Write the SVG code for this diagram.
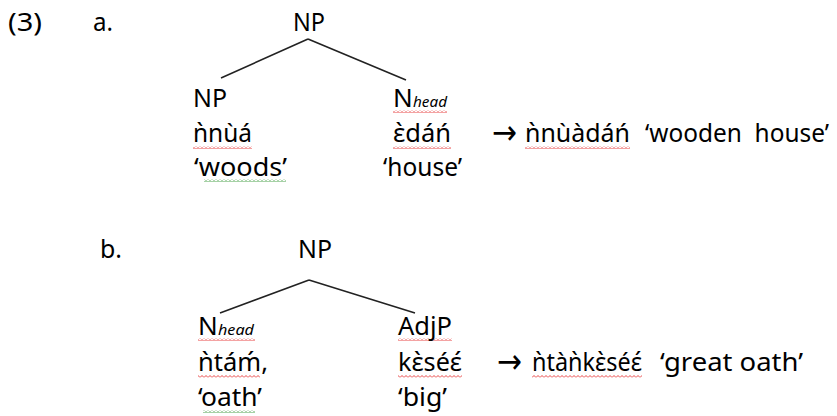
<svg xmlns="http://www.w3.org/2000/svg" width="837" height="416" viewBox="0 0 837 416">
<style>
text{font-family:"Noto Sans","Open Sans","DejaVu Sans",sans-serif;font-size:26px;fill:#000;white-space:pre}
.sub{font-size:15px;font-style:italic}
.arr{font-family:"DejaVu Sans",sans-serif;font-size:34px}
.edge{stroke:#222;stroke-width:1.6;fill:none}
.wr{fill:url(#wavyR)}
.wg{fill:url(#wavyG)}
</style>
<defs>
<pattern id="wavyR" width="4" height="3" patternUnits="userSpaceOnUse"><path d="M0 2.5 L2 0.5 L4 2.5" stroke="#e53030" stroke-width="0.9" fill="none"/></pattern>
<pattern id="wavyG" width="4" height="3" patternUnits="userSpaceOnUse"><path d="M0 2.5 L2 0.5 L4 2.5" stroke="#3a9a3a" stroke-width="0.9" fill="none"/></pattern>
</defs>
<rect width="837" height="416" fill="#fff"/>
<g id="labels">
<text x="8" y="31" textLength="34" lengthAdjust="spacingAndGlyphs">(3)</text>
<text x="93" y="31" textLength="20" lengthAdjust="spacingAndGlyphs">a.</text>
<text x="100" y="258" textLength="22" lengthAdjust="spacingAndGlyphs">b.</text>
</g>
<g id="connectors">
<path class="edge" d="M308 39 L221 78 M308 39 L406 80"/>
<path class="edge" d="M309 280 L220 313 M309 280 L415 313"/>
</g>
<g id="a-root"><text x="293" y="31" textLength="32" lengthAdjust="spacingAndGlyphs">NP</text></g>
<g id="a-left">
<text x="193" y="107" textLength="34" lengthAdjust="spacingAndGlyphs">NP</text>
<rect class="wr" x="193" y="146" width="59" height="3"/>
<text x="193" y="142" textLength="59" lengthAdjust="spacingAndGlyphs">ǹnùá</text>
<rect class="wg" x="204" y="179" width="82" height="3"/>
<text x="194" y="176" textLength="93" lengthAdjust="spacingAndGlyphs">‘woods’</text>
</g>
<g id="a-right">
<rect class="wr" x="393" y="110" width="54" height="3"/>
<text x="393" y="107">N</text><text class="sub" x="413" y="107" textLength="34" lengthAdjust="spacingAndGlyphs">head</text>
<rect class="wr" x="393" y="146" width="58" height="3"/>
<text x="393" y="142" textLength="58" lengthAdjust="spacingAndGlyphs">ɛ̀dáń</text>
<text x="383" y="176" textLength="79" lengthAdjust="spacingAndGlyphs">‘house’</text>
</g>
<g id="a-result">
<text class="arr" x="492" y="144" textLength="25" lengthAdjust="spacingAndGlyphs">→</text>
<rect class="wr" x="525" y="146" width="105" height="3"/>
<text x="525" y="142" textLength="105" lengthAdjust="spacingAndGlyphs">ǹnùàdáń</text>
<text x="645" y="142" textLength="184" lengthAdjust="spacingAndGlyphs">‘wooden  house’</text>
</g>
<g id="b-root"><text x="298" y="258" textLength="34" lengthAdjust="spacingAndGlyphs">NP</text></g>
<g id="b-left">
<rect class="wr" x="198" y="338" width="57" height="3"/>
<text x="198" y="335">N</text><text class="sub" x="218" y="335" textLength="36" lengthAdjust="spacingAndGlyphs">head</text>
<rect class="wr" x="198" y="375" width="62" height="3"/>
<text x="198" y="371" textLength="70" lengthAdjust="spacingAndGlyphs">ǹtáḿ,</text>
<rect class="wg" x="203" y="410" width="52" height="3"/>
<text x="198" y="406" textLength="64" lengthAdjust="spacingAndGlyphs">‘oath’</text>
</g>
<g id="b-right">
<rect class="wr" x="398" y="338" width="54" height="3"/>
<text x="398" y="335" textLength="54" lengthAdjust="spacingAndGlyphs">AdjP</text>
<rect class="wr" x="398" y="375" width="64" height="3"/>
<text x="398" y="371" textLength="64" lengthAdjust="spacingAndGlyphs">kɛ̀séɛ́</text>
<text x="398" y="406" textLength="49" lengthAdjust="spacingAndGlyphs">‘big’</text>
</g>
<g id="b-result">
<text class="arr" x="497" y="373" textLength="25" lengthAdjust="spacingAndGlyphs">→</text>
<rect class="wr" x="532" y="375" width="110" height="3"/>
<text x="532" y="371" textLength="110" lengthAdjust="spacingAndGlyphs">ǹtàǹkɛ̀séɛ́</text>
<text x="660" y="371" textLength="143" lengthAdjust="spacingAndGlyphs">‘great oath’</text>
</g>
</svg>
